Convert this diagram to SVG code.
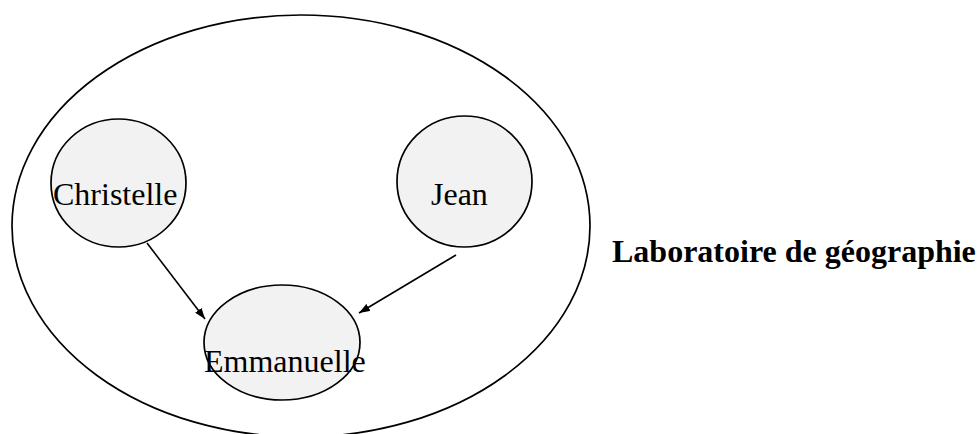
<svg xmlns="http://www.w3.org/2000/svg" width="978" height="434" viewBox="0 0 978 434">
<style>
.node{fill:#f2f2f2;stroke:#000;stroke-width:1.7}
.t{font-family:"Liberation Serif","Times New Roman",serif;font-size:32px;fill:#000}
.b{font-weight:bold}
.edge{stroke:#000;stroke-width:1.6;fill:none}
</style>
<defs>
<marker id="arr" viewBox="0 0 11 8" refX="11" refY="4" markerWidth="11" markerHeight="8" markerUnits="userSpaceOnUse" orient="auto">
<path d="M0,0 L11,4 L0,8 z" fill="#000"/>
</marker>
</defs>
<rect width="978" height="434" fill="#fff"/>
<g id="laboratoire">
<ellipse cx="301" cy="226" rx="289" ry="211" fill="none" stroke="#000" stroke-width="1.7"/>
<text class="t b" x="612" y="262">Laboratoire de géographie</text>
</g>
<g id="christelle">
<ellipse class="node" cx="118.5" cy="183" rx="67.5" ry="64"/>
<text class="t" x="53" y="205">Christelle</text>
</g>
<g id="jean">
<ellipse class="node" cx="464.5" cy="181.5" rx="67.5" ry="65.5"/>
<text class="t" x="431" y="205">Jean</text>
</g>
<g id="emmanuelle">
<ellipse class="node" cx="282" cy="342.5" rx="78" ry="57.5"/>
<text class="t" x="204" y="372">Emmanuelle</text>
</g>
<g id="connectors">
<line class="edge" x1="147" y1="243" x2="205" y2="319" marker-end="url(#arr)"/>
<line class="edge" x1="456" y1="255" x2="359" y2="313" marker-end="url(#arr)"/>
</g>
</svg>
